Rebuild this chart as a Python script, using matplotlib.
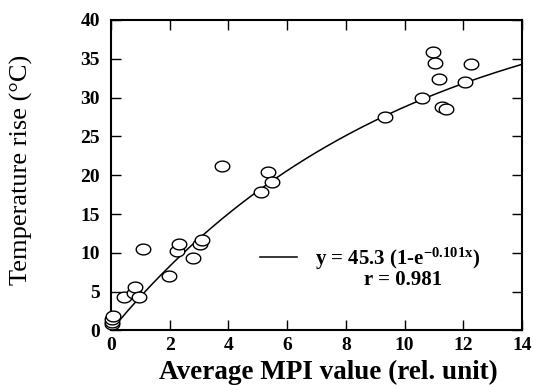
import numpy as np
import matplotlib.pyplot as plt

plt.rcParams['font.family'] = ['Liberation Serif', 'DejaVu Serif']
plt.rcParams['mathtext.fontset'] = 'custom'
plt.rcParams['mathtext.rm'] = 'Liberation Serif:bold'
plt.rcParams['mathtext.bf'] = 'Liberation Serif:bold'
plt.rcParams['mathtext.default'] = 'bf'

# measured points
mpi = [0.04, 0.04, 0.05, 0.06, 0.44, 0.79, 0.82, 0.95, 1.10, 1.96,
       2.26, 2.32, 2.78, 3.04, 3.11, 3.77, 5.11, 5.35, 5.49, 9.34,
       10.59, 10.96, 11.04, 11.16, 11.28, 11.42, 12.06, 12.27]
temp_rise = [0.8, 1.1, 1.5, 1.9, 4.3, 4.8, 5.6, 4.3, 10.5, 7.0,
             10.3, 11.1, 9.4, 11.1, 11.7, 21.2, 17.9, 20.4, 19.1, 27.5,
             30.0, 35.9, 34.4, 32.4, 28.8, 28.5, 32.0, 34.3]

# exponential fit y = A (1 - exp(-k x))
fit_a = 45.3
fit_k = 0.101
fit_r = 0.981

x_ticks = [0, 2, 4, 6, 8, 10, 12, 14]
y_ticks = [0, 5, 10, 15, 20, 25, 30, 35, 40]

fig = plt.figure(figsize=(5.34, 3.85), dpi=100)
ax = fig.add_axes([0.2079, 0.1416, 0.7696, 0.8065])

xs = np.linspace(0, 14, 200)
ax.plot(xs, fit_a * (1 - np.exp(-fit_k * xs)), color='black', lw=1.1,
        label=r'y = 45.3 (1-e$^{-0.101x}$)')

# slightly wide ellipse marker
t = np.linspace(0, 2 * np.pi, 60)
ellipse = list(zip(1.35 * np.cos(t), np.sin(t)))
ax.scatter(mpi, temp_rise, marker=ellipse, s=110, facecolor='white',
           edgecolor='black', linewidths=1.0, zorder=3, clip_on=False)

ax.set_xlim(0, 14)
ax.set_ylim(0, 40)
ax.set_xticks(x_ticks)
ax.set_yticks(y_ticks)
ax.tick_params(direction='in', top=True, right=True, length=7, width=1,
               labelsize=14, pad=5)
ax.tick_params(axis='y', pad=8)
for lab in ax.get_xticklabels() + ax.get_yticklabels():
    lab.set_fontweight('bold')
for sp in ax.spines.values():
    sp.set_linewidth(1.5)

ax.set_xlabel('Average MPI value (rel. unit)', fontsize=19.5, fontweight='bold')
ax.xaxis.set_label_coords(0.53, -0.095)
ax.set_ylabel('Temperature rise (\u00b0C)', fontsize=19)
ax.yaxis.set_label_coords(-0.19, 0.517)

ax.legend(loc='center left', bbox_to_anchor=(0.3625, 0.232), frameon=False,
          borderpad=0, borderaxespad=0, handlelength=1.8, handletextpad=0.85,
          prop={'size': 15, 'weight': 'bold'})
ax.text(0.71, 0.163, f'r = {fit_r}', transform=ax.transAxes, ha='center',
        va='center', fontsize=15, fontweight='bold')

fig.savefig('out.png', dpi=100)
